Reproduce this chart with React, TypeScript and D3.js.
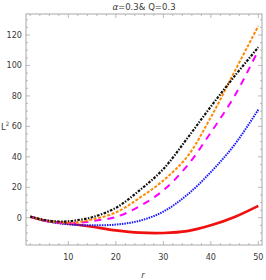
import React, { useEffect, useRef } from "react";
import * as d3 from "d3";

const rValues = [2, 5, 8, 10, 12, 15, 20, 25, 30, 35, 40, 45, 50];

const redValues = [0.7, -1.8, -3.2, -3.8, -4.6, -5.9, -8.3, -9.8, -10, -8.8, -5, 0.5, 7.8];
const blueValues = [0.7, -2, -3.6, -4.3, -4.8, -5, -4.5, -2, 4, 15, 30, 48, 71];
const magentaValues = [0.7, -1.8, -3.2, -3.5, -3.4, -2.2, 0.5, 7.5, 18, 34, 56, 80, 110];
const orangeValues = [0.7, -1.7, -3, -3.2, -2.8, -1.2, 3.5, 13, 24.5, 40, 66, 96, 126];
const blackValues = [0.7, -1.5, -2.5, -2.3, -1.5, 0.3, 6.5, 18, 32, 52, 73, 93, 112];

const xTicks = [10, 20, 30, 40, 50];
const yTicks = [0, 20, 40, 60, 80, 100, 120];

interface Series {
  name: string;
  color: string;
  width: number;
  dash: string | null;
  values: number[];
}

const series: Series[] = [
  { name: "red", color: "#f01010", width: 2.6, dash: null, values: redValues },
  { name: "blue", color: "#1a1aff", width: 2, dash: "1.5,1", values: blueValues },
  { name: "magenta", color: "#ff00ff", width: 2, dash: "7,6", values: magentaValues },
  { name: "orange", color: "#ff8800", width: 2, dash: "3,1.6", values: orangeValues },
  { name: "black", color: "#111111", width: 2.2, dash: "2.6,1.4,1.4,1.4", values: blackValues },
];

const FONT = "'DejaVu Sans Condensed', 'Liberation Sans', sans-serif";

const App: React.FC = () => {
  const ref = useRef<SVGSVGElement | null>(null);
  const width = 266;
  const height = 280;

  useEffect(() => {
    if (!ref.current) return;
    const svg = d3.select(ref.current);
    svg.selectAll("*").remove();

    const frame = { left: 26, right: 262, top: 14, bottom: 245 };

    const x = d3.scaleLinear().domain([1.09, 50.77]).range([frame.left, frame.right]);
    const y = d3.scaleLinear().domain([-17.9, 133.8]).range([frame.bottom, frame.top]);

    const frameColor = "#a8a8a8";
    const labelColor = "#3a3a3a";

    // frame box
    svg.append("rect")
      .attr("x", frame.left)
      .attr("y", frame.top)
      .attr("width", frame.right - frame.left)
      .attr("height", frame.bottom - frame.top)
      .attr("fill", "none")
      .attr("stroke", frameColor)
      .attr("stroke-width", 1);

    // ticks on all four sides (pointing inward)
    const xMinor = d3.range(2, 51, 2);
    const yMinor = d3.range(-15, 131, 5);
    const ticks = svg.append("g").attr("stroke", frameColor).attr("stroke-width", 0.8);

    xMinor.forEach((v) => {
      const len = v % 10 === 0 ? 4 : 2;
      ticks.append("line").attr("x1", x(v)).attr("x2", x(v)).attr("y1", frame.bottom).attr("y2", frame.bottom - len);
      ticks.append("line").attr("x1", x(v)).attr("x2", x(v)).attr("y1", frame.top).attr("y2", frame.top + len);
    });
    yMinor.forEach((v) => {
      const len = v % 20 === 0 ? 4 : 2;
      ticks.append("line").attr("x1", frame.left).attr("x2", frame.left + len).attr("y1", y(v)).attr("y2", y(v));
      ticks.append("line").attr("x1", frame.right).attr("x2", frame.right - len).attr("y1", y(v)).attr("y2", y(v));
    });

    // tick labels
    svg.append("g")
      .selectAll("text")
      .data(xTicks)
      .join("text")
      .attr("x", (d) => x(d))
      .attr("y", 260)
      .attr("text-anchor", "middle")
      .attr("font-family", FONT)
      .attr("font-size", 9)
      .attr("fill", labelColor)
      .text((d) => d);

    svg.append("g")
      .selectAll("text")
      .data(yTicks)
      .join("text")
      .attr("x", 22)
      .attr("y", (d) => y(d) + 3)
      .attr("text-anchor", "end")
      .attr("font-family", FONT)
      .attr("font-size", 9)
      .attr("fill", labelColor)
      .text((d) => d);

    // curves
    const plot = svg.append("g");
    series.forEach((s) => {
      const pts = rValues.map((r, i) => [r, s.values[i]] as [number, number]);
      const line = d3
        .line<[number, number]>()
        .x((d) => x(d[0]))
        .y((d) => y(d[1]))
        .curve(d3.curveCatmullRom.alpha(0.5));
      plot.append("path")
        .datum(pts)
        .attr("fill", "none")
        .attr("stroke", s.color)
        .attr("stroke-width", s.width)
        .attr("stroke-dasharray", s.dash)
        .attr("d", line);
    });

    // title
    const title = svg.append("text")
      .attr("x", 144)
      .attr("y", 10)
      .attr("text-anchor", "middle")
      .attr("font-family", FONT)
      .attr("font-size", 9.5)
      .attr("fill", labelColor);
    title.append("tspan").attr("font-style", "italic").text("α");
    title.append("tspan").text("=0.3& Q=0.3");

    // axis labels
    const yl = svg.append("text")
      .attr("x", 1)
      .attr("y", 130)
      .attr("font-family", FONT)
      .attr("font-size", 9.5)
      .attr("fill", labelColor);
    yl.append("tspan").text("L");
    yl.append("tspan").attr("font-size", 6).attr("dy", -4).text("2");

    svg.append("text")
      .attr("x", 143)
      .attr("y", 278)
      .attr("text-anchor", "middle")
      .attr("font-family", FONT)
      .attr("font-style", "italic")
      .attr("font-size", 9.5)
      .attr("fill", labelColor)
      .text("r");
  }, []);

  return (
    <svg
      ref={ref}
      width={width}
      height={height}
      style={{ position: "absolute", left: 0, top: 0, background: "#fff" }}
    ></svg>
  );
};

export default App;
